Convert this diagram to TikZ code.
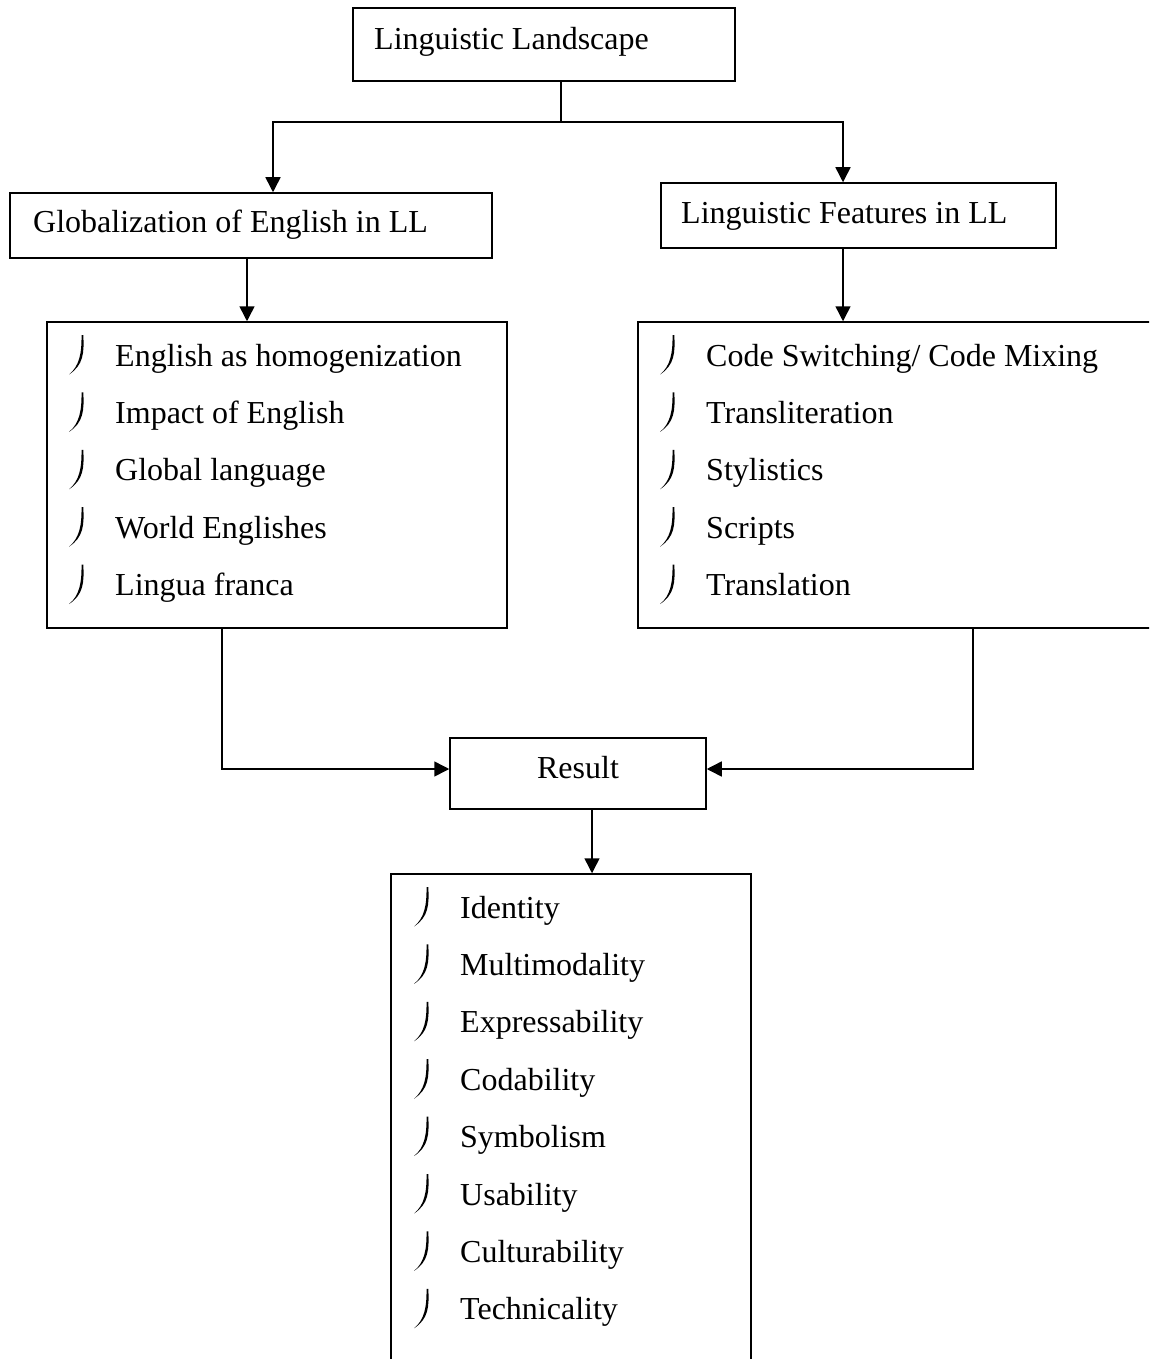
\documentclass[tikz,border=0pt]{standalone}
\usepackage{fontspec}
\setmainfont{Liberation Serif}
\usetikzlibrary{arrows.meta,calc}
\begin{document}
\begin{tikzpicture}[x=1pt,y=-1pt,
  box/.style={draw,line width=1.5pt,inner sep=0pt},
  txt/.style={inner sep=0pt,anchor=base west,font=\fontsize{32}{38}\selectfont},
  wire/.style={line width=1.5pt},
  arr/.style={line width=1.5pt,-{Triangle[length=15pt,width=15pt]}},
  bul/.pic={\fill (0.3,0) .. controls (1.2,18) and (0.5,30) .. (-14,39.5) .. controls (-3.5,31) and (-1.2,18) .. (-1.5,0) -- cycle;}
]
\useasboundingbox (0,0) rectangle (1149,1359);
\clip (0,0) rectangle (1149,1359);
\fill[white] (0,0) rectangle (1149,1359);

% boxes
\node[box,minimum width=382pt,minimum height=73pt] (top) at (544,44.5) {};
\node[box,minimum width=482pt,minimum height=65pt] (glob) at (251,225.5) {};
\node[box,minimum width=395pt,minimum height=65pt] (ling) at (858.5,215.5) {};
\node[box,minimum width=460pt,minimum height=306pt] (L) at (277,475) {};
\node[box,minimum width=540pt,minimum height=306pt] (R) at (908,475) {};
\node[box,minimum width=256pt,minimum height=71pt] (res) at (578,773.5) {};
\node[box,minimum width=360pt,minimum height=510pt] (B) at (571,1129) {};

% titles
\node[txt] (ttop) at (374,50) {Linguistic Landscape};
\node[txt] (tglob) at (33,233) {Globalization of English in LL};
\node[txt] (tling) at (681,223) {Linguistic Features in LL};
\node[txt,anchor=base] (tres) at (578,778) {Result};

% left list
\foreach \t [count=\i from 0] in {English as homogenization,Impact of English,Global language,World Englishes,Lingua franca}{
  \node[txt] (la\i) at (115,366+57.4*\i) {\t};
  \pic at (83,335+57.4*\i) {bul};
}
% right list
\foreach \t [count=\i from 0] in {Code Switching/ Code Mixing,Transliteration,Stylistics,Scripts,Translation}{
  \node[txt] (ra\i) at (706,366+57.4*\i) {\t};
  \pic at (674,335+57.4*\i) {bul};
}
% bottom list
\foreach \t [count=\i from 0] in {Identity,Multimodality,Expressability,Codability,Symbolism,Usability,Culturability,Technicality}{
  \node[txt] (ba\i) at (460,918+57.4*\i) {\t};
  \pic at (428,887+57.4*\i) {bul};
}

% connectors
\coordinate (j) at (561,122);
\coordinate (xg) at (273,0);
\coordinate (xl) at (843,0);
\coordinate (xgl) at (247,0);
\coordinate (xa) at (222,0);
\coordinate (xb) at (973,0);
\coordinate (xr) at (592,0);
\coordinate (yr) at (0,769);
\draw[wire] (top.south -| j) -- (j);
\draw[arr] (j) -| (glob.north -| xg);
\draw[arr] (j) -| (ling.north -| xl);
\draw[arr] (glob.south -| xgl) -- (L.north -| xgl);
\draw[arr] (ling.south -| xl) -- (R.north -| xl);
\draw[arr] (L.south -| xa) |- (res.west |- yr);
\draw[arr] (R.south -| xb) |- (res.east |- yr);
\draw[arr] (res.south -| xr) -- (B.north -| xr);
\end{tikzpicture}
\end{document}
